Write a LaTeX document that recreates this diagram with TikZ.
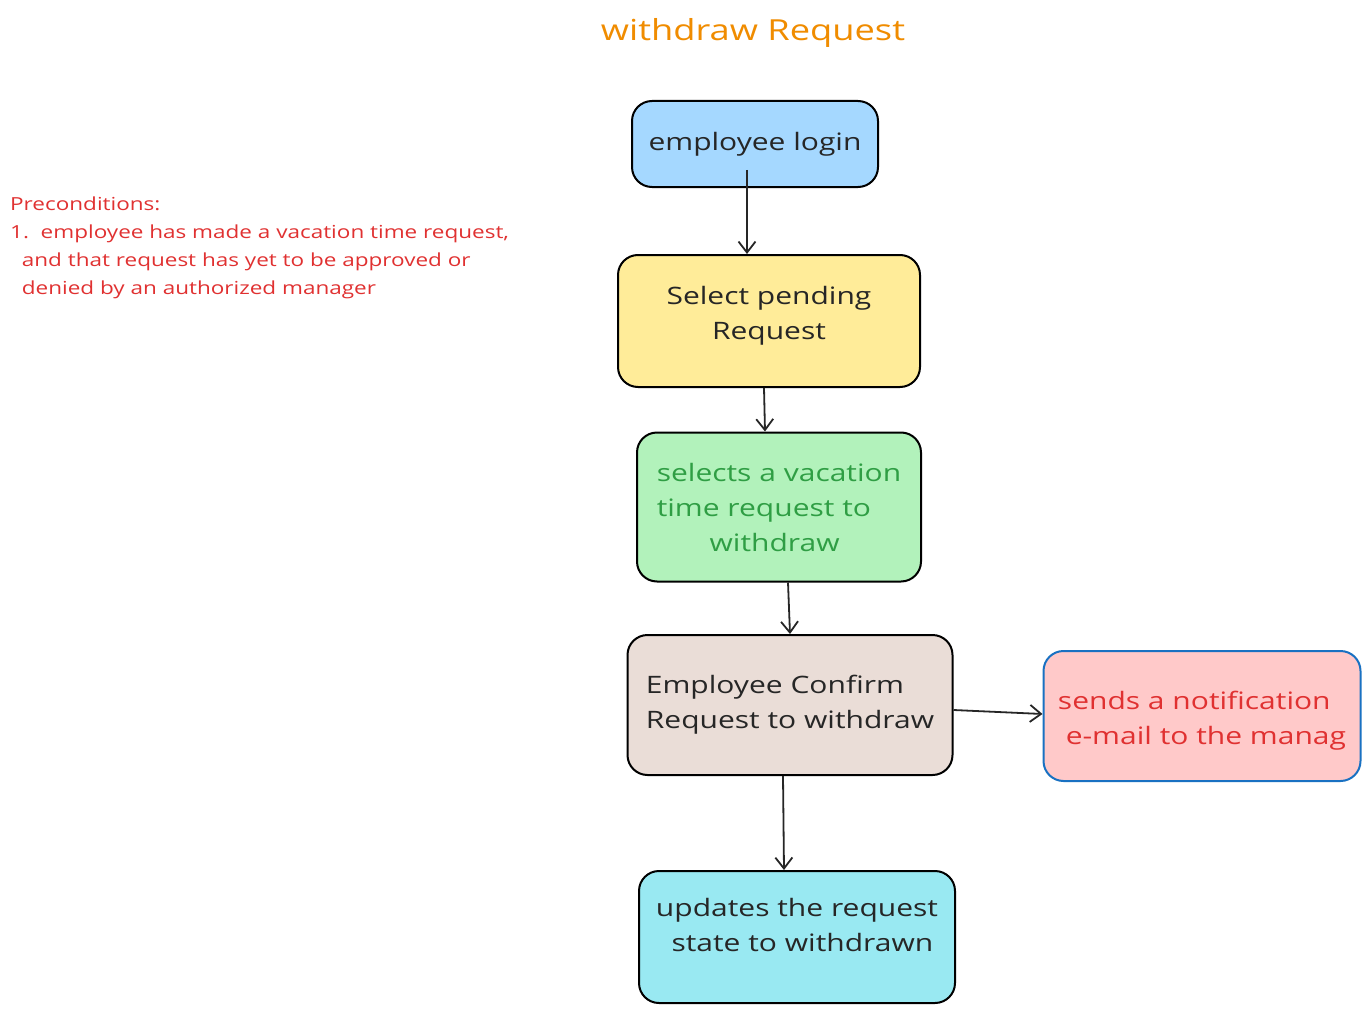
\documentclass[tikz,border=0pt]{standalone}
\usepackage{fontspec}
\setmainfont[FakeStretch=1.25]{Open Sans}
\usetikzlibrary{arrows.meta, positioning}
\definecolor{loginblue}{HTML}{A5D8FF}
\definecolor{pendyellow}{HTML}{FFEC99}
\definecolor{selgreen}{HTML}{B2F2BB}
\definecolor{textgreen}{HTML}{2F9E44}
\definecolor{confbrown}{HTML}{EADDD7}
\definecolor{notifred}{HTML}{FFC9C9}
\definecolor{textred}{HTML}{E03131}
\definecolor{edgeblue}{HTML}{1971C2}
\definecolor{updcyan}{HTML}{99E9F2}
\definecolor{titleorange}{HTML}{F08C00}

\tikzset{
  stepbox/.style={draw=black, line width=2pt, rounded corners=20pt, inner sep=0pt,
    align=left, font=\fontsize{24}{35}\selectfont, text=black!85},
  flow/.style={line width=1.8pt, draw=black!85, -{Straight Barb[length=11pt,width=17pt,line width=1.8pt]}}
}

\begin{document}
\begin{tikzpicture}[x=1pt, y=-1pt]
  \useasboundingbox (0,0) rectangle (1371,1014);

  %Title
  \node[text=titleorange, font=\fontsize{29}{32}\selectfont] (title) at (753,33) {withdraw Request};

  %Preconditions
  \node[anchor=north west, text=textred, align=left, inner sep=0pt,
    font=\fontsize{18}{28}\selectfont] (pre) at (10,197)
    {Preconditions:\\
     1.\ \ employee has made a vacation time request,\\
     \ \ and that request has yet to be approved or\\
     \ \ denied by an authorized manager};

  %Boxes
  \node[stepbox, fill=loginblue, minimum width=246pt, minimum height=86pt] (login) at (755,144) {employee login};
  \node[stepbox, fill=pendyellow, minimum width=302pt, minimum height=132pt, align=center] (pending) at (769,321)
    {Select pending\\Request\rule[-16pt]{0pt}{0pt}};
  \node[stepbox, fill=selgreen, minimum width=284pt, minimum height=149pt, text=textgreen] (select) at (779,507)
    {selects a vacation\\time request to\\\hspace*{2.2em}withdraw};
  \node[stepbox, fill=confbrown, minimum width=325pt, minimum height=140pt] (confirm) at (790,705)
    {Employee Confirm\\Request to withdraw};
  \node[stepbox, fill=notifred, draw=edgeblue, minimum width=317pt, minimum height=130pt, text=textred] (notify) at (1202,716)
    {\rule{0pt}{28pt}sends a notification\\\ e-mail to the manag};
  \node[stepbox, fill=updcyan, minimum width=316pt, minimum height=132pt] (update) at (797,937)
    {updates the request\\\ \ state to withdrawn\rule[-24pt]{0pt}{0pt}};

  %Arrows
  \coordinate (loginout) at (747,170);
  \draw[flow] (loginout) -- (loginout |- pending.north);
  \draw[flow] ([xshift=-5pt]pending.south) -- ([xshift=-14pt]select.north);
  \draw[flow] ([xshift=9pt]select.south) -- ([xshift=0pt]confirm.north);
  \draw[flow] ([yshift=-5pt]confirm.east) -- ([yshift=2pt]notify.west);
  \draw[flow] ([xshift=-7pt]confirm.south) -- ([xshift=-13pt]update.north);
\end{tikzpicture}
\end{document}
